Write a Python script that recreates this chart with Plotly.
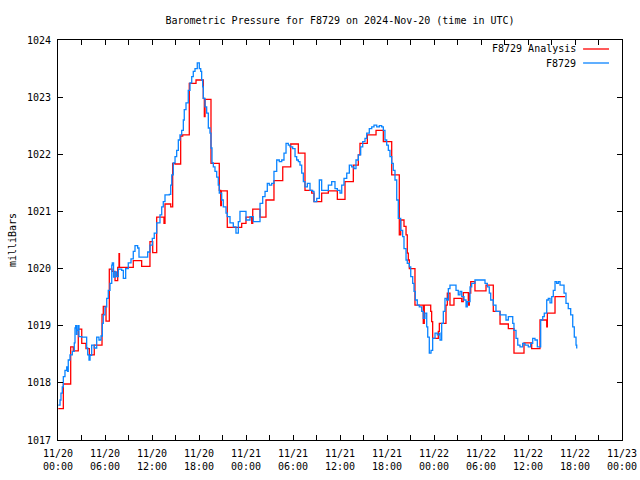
import pandas as pd
import plotly.graph_objects as go

# Hours since 2024-11-20 00:00 UTC
obs_hours = [0.04, 0.26, 0.38, 0.55, 0.68, 0.89, 1.11, 1.21, 1.31, 1.53, 1.83, 2.08, 2.17, 2.26, 2.36, 2.43,
             2.55, 2.68, 3.03, 3.54, 3.66, 3.79, 3.96, 4.09, 4.30, 4.63, 4.94, 5.23, 5.49, 5.66, 5.78, 6.00,
             6.22, 6.42, 6.64, 6.86, 6.93, 7.09, 7.28, 7.47, 7.70, 8.13, 8.34, 8.64, 8.97, 9.32, 9.61, 9.83,
             10.17, 10.34, 11.20, 11.45, 11.74, 12.04, 12.29, 12.60, 13.02, 13.24, 13.44, 13.66, 14.21, 14.39,
             14.52, 14.72, 14.94, 15.15, 15.36, 15.57, 15.79, 16.00, 16.12, 16.34, 16.63, 16.85, 17.07, 17.27,
             17.49, 17.78, 18.04, 18.22, 18.34, 18.47, 18.55, 18.77, 18.98, 19.19, 19.40, 19.53, 19.66, 19.83,
             20.04, 20.26, 20.46, 20.59, 20.90, 21.10, 21.45, 21.61, 21.96, 22.38, 22.72, 23.02, 23.23, 23.66,
             24.00, 24.51, 24.93, 25.37, 25.79, 26.13, 26.43, 26.72, 26.97, 27.28, 27.57, 27.92, 28.25, 28.56,
             28.85, 29.11, 29.40, 29.62, 29.96, 30.26, 30.47, 30.68, 30.89, 31.11, 31.32, 31.53, 31.83, 32.17,
             32.51, 32.68, 33.03, 33.36, 33.66, 34.09, 34.51, 34.94, 35.36, 35.66, 36.00, 36.22, 36.51, 36.86,
             37.19, 37.49, 37.79, 38.04, 38.34, 38.64, 38.90, 39.19, 39.41, 39.74, 40.05, 40.34, 40.69, 41.02,
             41.32, 41.53, 41.74, 41.96, 42.17, 42.38, 42.60, 42.80, 43.02, 43.24, 43.44, 43.75, 44.00, 44.17,
             44.43, 44.59, 44.85, 45.03, 45.28, 45.45, 45.61, 45.87, 46.12, 46.43, 46.63, 46.85, 47.07, 47.20,
             47.40, 47.62, 47.83, 48.13, 48.42, 48.68, 48.77, 48.98, 49.19, 49.40, 49.62, 49.83, 50.04, 50.68,
             50.81, 51.10, 51.32, 51.54, 51.83, 52.09, 52.25, 52.60, 52.81, 53.23, 54.22, 54.51, 54.81, 55.06,
             55.24, 55.57, 55.91, 56.43, 56.85, 57.19, 57.49, 58.05, 58.21, 58.47, 58.69, 58.98, 59.32, 59.62,
             60.04, 60.34, 60.60, 60.89, 61.19, 61.44, 61.62, 61.88, 62.08, 62.39, 62.59, 62.81, 63.03, 63.23,
             63.45, 63.66, 63.87, 64.09, 64.43, 64.60, 64.85, 65.14, 65.45, 65.71, 65.91, 66.13, 66.22]
obs_mbar = [1017.61, 1017.70, 1017.82, 1017.93, 1018.11, 1018.22, 1018.28, 1018.20, 1018.40, 1018.49, 1018.55,
            1018.70, 1018.96, 1019.00, 1018.85, 1018.92, 1019.00, 1018.81, 1018.80, 1018.80, 1018.61, 1018.49,
            1018.40, 1018.48, 1018.66, 1018.61, 1018.80, 1018.75, 1018.82, 1019.04, 1019.19, 1019.33, 1019.48,
            1019.62, 1019.74, 1020.06, 1020.10, 1019.85, 1019.94, 1019.86, 1019.99, 1019.97, 1019.83, 1020.00,
            1020.10, 1020.17, 1020.30, 1020.40, 1020.36, 1020.20, 1020.20, 1020.29, 1020.41, 1020.53, 1020.62,
            1020.80, 1020.94, 1021.08, 1021.17, 1021.29, 1021.30, 1021.46, 1021.64, 1021.85, 1021.96, 1022.07,
            1022.25, 1022.34, 1022.42, 1022.60, 1022.78, 1022.90, 1023.12, 1023.25, 1023.36, 1023.45, 1023.50,
            1023.60, 1023.50, 1023.45, 1023.30, 1023.18, 1022.98, 1022.83, 1022.72, 1022.46, 1022.37, 1022.11,
            1021.85, 1021.78, 1021.70, 1021.60, 1021.46, 1021.32, 1021.20, 1021.08, 1020.97, 1020.91, 1020.80,
            1020.73, 1020.62, 1020.82, 1021.00, 1021.00, 1020.85, 1020.91, 1020.82, 1020.82, 1021.14, 1021.26,
            1021.35, 1021.49, 1021.46, 1021.49, 1021.70, 1021.90, 1021.87, 1021.90, 1022.02, 1022.19, 1022.16,
            1022.13, 1022.10, 1021.96, 1021.90, 1021.87, 1021.81, 1021.67, 1021.52, 1021.43, 1021.49, 1021.37,
            1021.35, 1021.17, 1021.23, 1021.55, 1021.37, 1021.37, 1021.46, 1021.52, 1021.40, 1021.37, 1021.32,
            1021.46, 1021.58, 1021.67, 1021.81, 1021.78, 1021.75, 1021.90, 1021.99, 1022.13, 1022.22, 1022.28,
            1022.37, 1022.45, 1022.48, 1022.51, 1022.48, 1022.50, 1022.48, 1022.42, 1022.25, 1022.16, 1022.07,
            1021.96, 1021.84, 1021.72, 1021.55, 1021.20, 1020.88, 1020.67, 1020.56, 1020.35, 1020.15, 1020.09,
            1020.03, 1019.86, 1019.74, 1019.60, 1019.45, 1019.36, 1019.33, 1019.25, 1019.13, 1019.22, 1018.98,
            1018.80, 1018.52, 1018.57, 1018.78, 1018.87, 1018.84, 1018.87, 1018.75, 1019.04, 1019.25, 1019.48,
            1019.45, 1019.65, 1019.71, 1019.71, 1019.62, 1019.54, 1019.60, 1019.51, 1019.45, 1019.33, 1019.42,
            1019.68, 1019.74, 1019.80, 1019.80, 1019.74, 1019.68, 1019.57, 1019.45, 1019.36, 1019.25, 1019.19,
            1019.19, 1019.10, 1019.16, 1019.04, 1018.92, 1018.78, 1018.66, 1018.63, 1018.69, 1018.66, 1018.63,
            1018.69, 1018.78, 1018.75, 1018.63, 1018.63, 1019.10, 1019.16, 1019.22, 1019.45, 1019.48, 1019.40,
            1019.51, 1019.62, 1019.77, 1019.74, 1019.77, 1019.71, 1019.71, 1019.57, 1019.39, 1019.30, 1019.19,
            1018.98, 1018.80, 1018.66, 1018.60]

ana_hours = [0.04, 0.68, 1.62, 1.95, 2.59, 3.03, 3.57, 4.00, 4.63, 5.62, 5.78, 6.13, 6.55, 6.89, 7.28, 7.62,
             7.79, 7.85, 9.61, 10.68, 11.74, 12.09, 12.60, 13.53, 13.66, 14.39, 14.64, 14.94, 15.66, 15.92,
             16.76, 17.62, 18.55, 18.68, 18.77, 19.53, 20.59, 20.77, 20.85, 21.61, 23.45, 24.00, 24.73, 24.86,
             25.79, 26.55, 27.57, 28.69, 29.71, 30.68, 31.53, 32.39, 32.68, 33.66, 34.51, 35.66, 36.64, 37.70,
             38.34, 38.55, 39.49, 40.60, 41.53, 42.60, 43.57, 43.75, 44.17, 44.43, 44.59, 44.72, 44.85, 45.57,
             46.63, 46.76, 47.58, 47.70, 47.83, 48.55, 48.68, 49.53, 49.70, 50.04, 50.55, 51.54, 51.74, 52.38,
             52.51, 52.69, 53.23, 54.64, 55.57, 56.43, 57.49, 58.21, 59.49, 60.47, 61.53, 62.39, 62.47, 63.45,
             64.72]
ana_mbar = [1017.55, 1017.98, 1018.63, 1018.56, 1018.94, 1018.69, 1018.60, 1018.49, 1018.66, 1019.20, 1019.34,
            1019.08, 1019.99, 1019.95, 1019.79, 1020.02, 1020.26, 1020.02, 1020.14, 1020.04, 1020.47, 1020.28,
            1020.90, 1020.79, 1021.13, 1021.08, 1021.84, 1021.83, 1022.32, 1022.34, 1023.24, 1023.30, 1022.98,
            1022.66, 1022.96, 1021.84, 1021.37, 1021.10, 1021.36, 1020.72, 1020.79, 1020.90, 1020.79, 1021.04,
            1020.90, 1021.20, 1021.54, 1021.78, 1022.18, 1022.02, 1021.37, 1021.32, 1021.17, 1021.32, 1021.36,
            1021.21, 1021.52, 1021.81, 1021.99, 1022.19, 1022.34, 1022.42, 1022.22, 1021.64, 1020.59, 1020.85,
            1020.74, 1020.59, 1020.27, 1020.15, 1020.00, 1019.36, 1019.04, 1019.36, 1019.25, 1019.07, 1018.78,
            1018.90, 1019.04, 1019.36, 1019.57, 1019.36, 1019.48, 1019.42, 1019.58, 1019.36, 1019.57, 1019.77,
            1019.61, 1019.71, 1019.25, 1019.03, 1018.95, 1018.52, 1018.70, 1018.60, 1019.10, 1018.98, 1019.22,
            1019.51, 1019.51]

tick_hours = list(range(0, 73, 6))
tick_text = ["11/20<br>00:00", "11/20<br>06:00", "11/20<br>12:00", "11/20<br>18:00",
             "11/21<br>00:00", "11/21<br>06:00", "11/21<br>12:00", "11/21<br>18:00",
             "11/22<br>00:00", "11/22<br>06:00", "11/22<br>12:00", "11/22<br>18:00",
             "11/23<br>00:00"]

start = pd.Timestamp("2024-11-20 00:00")
to_t = lambda hs: [start + pd.Timedelta(hours=h) for h in hs]

FONT = "DejaVu Sans Mono"
FS = 10
RED = "#ff0000"
BLUE = "#0a84ff"

fig = go.Figure()
fig.add_trace(go.Scatter(x=to_t(ana_hours), y=ana_mbar, mode="lines", line_shape="hv",
                         line=dict(color=RED, width=1.3), name="F8729 Analysis", showlegend=False))
fig.add_trace(go.Scatter(x=to_t(obs_hours), y=obs_mbar, mode="lines", line_shape="hv",
                         line=dict(color=BLUE, width=1.3), name="F8729", showlegend=False))

# gnuplot-style legend (label text, then sample line on its right)
for label, color, yy in [("F8729 Analysis", RED, 0.9775), ("F8729", BLUE, 0.9425)]:
    fig.add_annotation(xref="paper", yref="paper", x=0.918, y=yy, text=label, showarrow=False,
                       xanchor="right", yanchor="middle", xshift=2,
                       font=dict(family=FONT, size=FS, color="black"))
    fig.add_shape(type="line", xref="paper", yref="paper", x0=0.931, x1=0.977, y0=yy, y1=yy,
                  line=dict(color=color, width=1.3))

fig.update_layout(
    width=640, height=480,
    margin=dict(l=58, r=18, t=40, b=40, autoexpand=False),
    paper_bgcolor="white", plot_bgcolor="white",
    font=dict(family=FONT, size=FS, color="black"),
    title=dict(text="Barometric Pressure for F8729 on 2024-Nov-20 (time in UTC)", x=0.53125, xanchor="center",
               xref="container", yref="container", y=1 - 20 / 480, yanchor="middle",
               font=dict(family=FONT, size=FS, color="black")),
    showlegend=False,
)
fig.update_xaxes(
    range=[start, start + pd.Timedelta(hours=72)],
    tickvals=to_t(tick_hours), ticktext=tick_text,
    ticks="inside", ticklen=5, tickcolor="black", mirror="allticks", automargin=False,
    showline=True, linecolor="black", linewidth=1, showgrid=False, zeroline=False,
    minor=dict(tickvals=to_t(list(range(3, 72, 6))), ticks="inside", ticklen=5, tickcolor="black"),
    tickfont=dict(family=FONT, size=FS), ticklabelstandoff=4,
)
fig.update_yaxes(
    range=[1017, 1024], dtick=1, tick0=1017,
    ticks="inside", ticklen=5, tickcolor="black", mirror="allticks", automargin=False,
    showline=True, linecolor="black", linewidth=1, showgrid=False, zeroline=False,
    title=dict(text="milliBars", font=dict(family=FONT, size=FS), standoff=8),
    tickfont=dict(family=FONT, size=FS), ticklabelstandoff=4,
)

fig.write_html("out.html", config={"displayModeBar": False},
               post_script="document.body.style.margin='0';document.body.style.overflow='hidden';")
